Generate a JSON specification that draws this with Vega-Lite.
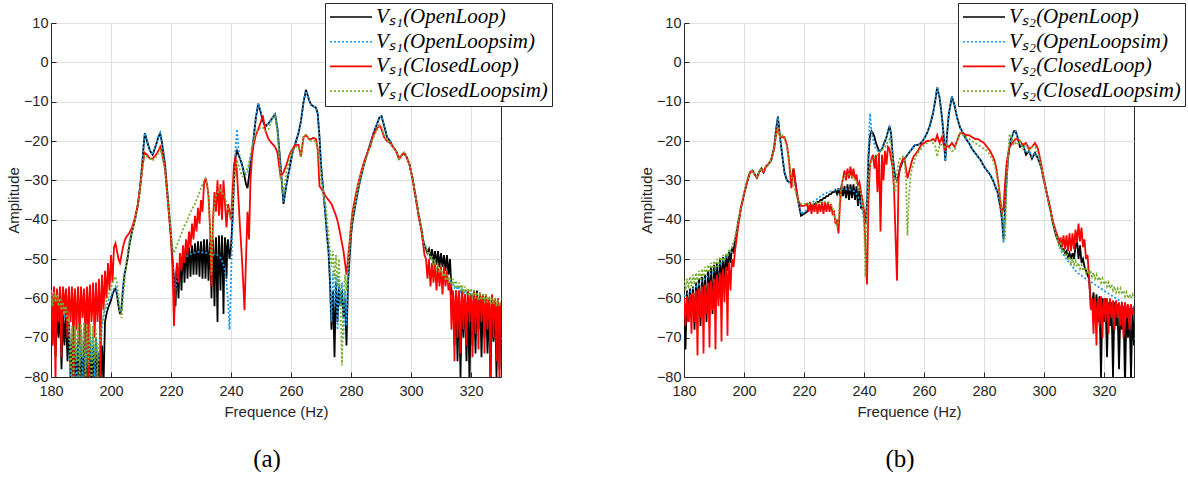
{
"$schema": "https://vega.github.io/schema/vega-lite/v6.json",
"background": "white",
"padding": {"left": 5, "top": 2, "right": 0, "bottom": 0},
"config": {
 "view": {"stroke": "#262626", "strokeWidth": 1},
 "axis": {"labelFont": "Liberation Sans", "labelFontSize": 14.5, "labelColor": "#262626", "titleFont": "Liberation Sans", "titleFontSize": 15, "titleFontWeight": "normal", "titleColor": "#262626", "gridColor": "#dfdfdf", "domainColor": "#262626", "tickColor": "#262626", "tickSize": -5, "labelPadding": 8, "labelFlush": false, "labelOverlap": false},
 "axisX": {"labelPadding": 12, "titlePadding": 7},
 "axisY": {"titlePadding": 2},
 "legend": {"symbolType": "stroke", "symbolSize": 1764, "symbolStrokeWidth": 1.6, "clipHeight": 20, "rowPadding": 3.7, "labelFont": "Liberation Serif", "labelFontStyle": "italic", "labelFontSize": 21, "labelColor": "#000000", "labelOffset": 3, "labelLimit": 0, "padding": 4, "fillColor": "#ffffff", "strokeColor": "#262626"}
},
"datasets": {
"A": [
{"f":180,"k":-62,"u":-59,"r":-58,"g":-58},
{"f":180.5,"k":-72,"u":-61,"r":-72,"g":-62},
{"f":181,"k":-61,"u":-59.5,"r":-57,"g":-58.5},
{"f":181.5,"k":-75,"u":-62,"r":-82,"g":-61},
{"f":182,"k":-63,"u":-60,"r":-57.5,"g":-59},
{"f":182.5,"k":-70,"u":-62.5,"r":-66,"g":-62},
{"f":183,"k":-62,"u":-61,"r":-57,"g":-60},
{"f":183.5,"k":-78,"u":-63.5,"r":-75,"g":-63},
{"f":184,"k":-64,"u":-62,"r":-57,"g":-61},
{"f":184.5,"k":-72,"u":-65,"r":-64,"g":-64},
{"f":185,"k":-63,"u":-63,"r":-57.5,"g":-62},
{"f":185.5,"k":-76,"u":-68,"r":-70,"g":-66},
{"f":186,"k":-66,"u":-67,"r":-57,"g":-65},
{"f":186.5,"k":-80,"u":-82,"r":-66,"g":-78},
{"f":187,"k":-70,"u":-69,"r":-57,"g":-67},
{"f":187.5,"k":-82,"u":-74,"r":-82,"g":-82},
{"f":188,"k":-72,"u":-68,"r":-57.5,"g":-67},
{"f":188.5,"k":-82,"u":-82,"r":-68,"g":-76},
{"f":189,"k":-71,"u":-68,"r":-57,"g":-66.5},
{"f":189.5,"k":-82,"u":-77,"r":-72,"g":-82},
{"f":190,"k":-72,"u":-68,"r":-57,"g":-66.5},
{"f":190.5,"k":-82,"u":-82,"r":-65,"g":-75},
{"f":191,"k":-71,"u":-67.5,"r":-57.5,"g":-66},
{"f":191.5,"k":-82,"u":-78,"r":-74,"g":-82},
{"f":192,"k":-72,"u":-68,"r":-57,"g":-66.5},
{"f":192.5,"k":-82,"u":-82,"r":-82,"g":-77},
{"f":193,"k":-71,"u":-68,"r":-56.5,"g":-66.5},
{"f":193.5,"k":-82,"u":-76,"r":-66,"g":-82},
{"f":194,"k":-72,"u":-69,"r":-56,"g":-67},
{"f":194.5,"k":-82,"u":-82,"r":-70,"g":-76},
{"f":195,"k":-70,"u":-70,"r":-56,"g":-68},
{"f":195.5,"k":-82,"u":-74,"r":-66,"g":-80},
{"f":196,"k":-74,"u":-76,"r":-55,"g":-72},
{"f":196.5,"k":-82,"u":-72,"r":-82,"g":-70},
{"f":197,"k":-72,"u":-67,"r":-54,"g":-66},
{"f":197.5,"k":-82,"u":-65,"r":-63,"g":-64},
{"f":198,"k":-66,"u":-63,"r":-53,"g":-62},
{"f":198.5,"k":-64,"u":-62,"r":-60,"g":-60.5},
{"f":199,"k":-62.5,"u":-61,"r":-51,"g":-59.5},
{"f":199.5,"k":-61.5,"u":-60,"r":-58,"g":-58.5},
{"f":200,"k":-60.5,"u":-59.5,"r":-49,"g":-57.5},
{"f":200.5,"k":-59,"u":-58.5,"r":-56,"g":-56},
{"f":201,"k":-58,"u":-57.5,"r":-47,"g":-55},
{"f":201.5,"k":-57.5,"u":-57,"r":-46,"g":-54.5},
{"f":202,"k":-59,"u":-58.5,"r":-48,"g":-56},
{"f":202.5,"k":-62,"u":-61,"r":-50,"g":-59},
{"f":203,"k":-64,"u":-63.5,"r":-51,"g":-63},
{"f":203.5,"k":-62.5,"u":-62,"r":-49,"g":-65},
{"f":204,"k":-57.5,"u":-57,"r":-47,"g":-60},
{"f":204.5,"k":-54,"u":-53.5,"r":-45.5,"g":-56},
{"f":205,"k":-52,"u":-51.5,"r":-44.5,"g":-52},
{"f":205.5,"k":-50,"u":-49.5,"r":-44,"g":-49},
{"f":206,"k":-47,"u":-46.5,"r":-43.5,"g":-46},
{"f":207,"k":-43,"u":-43,"r":-42,"g":-43},
{"f":208,"k":-40,"u":-40,"r":-39.5,"g":-40},
{"f":209,"k":-36,"u":-36,"r":-36,"g":-36.5},
{"f":209.5,"k":-33,"u":-33,"r":-33,"g":-33.5},
{"f":210,"k":-29.5,"u":-29.5,"r":-30,"g":-30.5},
{"f":210.5,"k":-25,"u":-25,"r":-26.5,"g":-27},
{"f":211,"k":-20,"u":-20,"r":-24,"g":-24},
{"f":211.3,"k":-18,"u":-18,"r":-23,"g":-23.5},
{"f":212,"k":-20,"u":-20,"r":-23.5,"g":-24},
{"f":213,"k":-22.5,"u":-22.5,"r":-24.5,"g":-24.5},
{"f":213.9,"k":-23.5,"u":-23.5,"r":-24.5,"g":-25},
{"f":215,"k":-21,"u":-21,"r":-23.5,"g":-24},
{"f":215.8,"k":-19,"u":-19,"r":-22.5,"g":-23},
{"f":216.4,"k":-18,"u":-18,"r":-21.5,"g":-22},
{"f":217,"k":-20.5,"u":-20.5,"r":-23,"g":-23.5},
{"f":218,"k":-26,"u":-26,"r":-27,"g":-27.5},
{"f":219,"k":-35,"u":-35,"r":-36,"g":-36},
{"f":220,"k":-44,"u":-44,"r":-45,"g":-43},
{"f":220.5,"k":-50,"u":-50,"r":-52,"g":-47},
{"f":221,"k":-55,"u":-56,"r":-67,"g":-48.5},
{"f":221.5,"k":-62,"u":-58,"r":-55,"g":-47.5},
{"f":222,"k":-52,"u":-55,"r":-51,"g":-46.5},
{"f":222.5,"k":-60,"u":-53,"r":-56,"g":-45.5},
{"f":223,"k":-50,"u":-52,"r":-48.5,"g":-44.5},
{"f":223.5,"k":-58,"u":-51,"r":-53,"g":-43.5},
{"f":224,"k":-48.5,"u":-50.5,"r":-46.5,"g":-42.5},
{"f":224.5,"k":-56,"u":-50,"r":-51,"g":-41.5},
{"f":225,"k":-47.5,"u":-49.5,"r":-45,"g":-41},
{"f":225.5,"k":-55,"u":-49.2,"r":-49,"g":-40},
{"f":226,"k":-47,"u":-49,"r":-43,"g":-39},
{"f":226.5,"k":-54.5,"u":-48.8,"r":-47,"g":-38},
{"f":227,"k":-46.5,"u":-48.6,"r":-41,"g":-37.5},
{"f":227.5,"k":-54,"u":-48.5,"r":-45,"g":-36.5},
{"f":228,"k":-46,"u":-48.4,"r":-39,"g":-36},
{"f":228.5,"k":-54,"u":-48.3,"r":-43,"g":-35},
{"f":229,"k":-45.5,"u":-48.2,"r":-37,"g":-34},
{"f":229.5,"k":-54.5,"u":-48.2,"r":-41,"g":-33},
{"f":230,"k":-45.5,"u":-48.2,"r":-35,"g":-32},
{"f":230.5,"k":-55,"u":-48.3,"r":-38,"g":-31},
{"f":231,"k":-45,"u":-48.3,"r":-31,"g":-30},
{"f":231.5,"k":-55,"u":-48.4,"r":-29.5,"g":-29.5},
{"f":232,"k":-45,"u":-48.5,"r":-31,"g":-31},
{"f":232.5,"k":-55.5,"u":-48.6,"r":-34,"g":-34},
{"f":233,"k":-45.5,"u":-48.8,"r":-42,"g":-42},
{"f":233.5,"k":-60,"u":-49,"r":-57,"g":-54},
{"f":234,"k":-45,"u":-49,"r":-40,"g":-42},
{"f":234.5,"k":-62,"u":-48.8,"r":-33,"g":-36},
{"f":235,"k":-44.5,"u":-48.8,"r":-38,"g":-34},
{"f":235.5,"k":-66,"u":-49,"r":-30,"g":-33},
{"f":236,"k":-44,"u":-49.3,"r":-39,"g":-33},
{"f":236.5,"k":-58,"u":-49.7,"r":-31,"g":-32.5},
{"f":237,"k":-44,"u":-50.5,"r":-40,"g":-33},
{"f":237.5,"k":-64,"u":-51.5,"r":-30,"g":-33.5},
{"f":238,"k":-44.5,"u":-53,"r":-36,"g":-34.5},
{"f":238.5,"k":-55,"u":-56,"r":-42,"g":-36},
{"f":239,"k":-45,"u":-61,"r":-36,"g":-37.5},
{"f":239.5,"k":-50,"u":-68,"r":-38,"g":-39},
{"f":240,"k":-47,"u":-55,"r":-40,"g":-39.5},
{"f":240.5,"k":-40,"u":-42,"r":-33,"g":-36},
{"f":241,"k":-30,"u":-30,"r":-26,"g":-31},
{"f":241.5,"k":-24,"u":-22,"r":-24,"g":-27},
{"f":242,"k":-22.5,"u":-17,"r":-28,"g":-25},
{"f":242.5,"k":-23.5,"u":-22,"r":-35,"g":-26},
{"f":243,"k":-24.5,"u":-24.5,"r":-42,"g":-27.5},
{"f":243.5,"k":-25.5,"u":-26,"r":-48,"g":-28.5},
{"f":244,"k":-27,"u":-27,"r":-55,"g":-29},
{"f":244.5,"k":-29,"u":-28,"r":-63,"g":-28.5},
{"f":245,"k":-31,"u":-28.5,"r":-50,"g":-27.5},
{"f":245.5,"k":-32,"u":-28,"r":-38,"g":-27},
{"f":246,"k":-29,"u":-26.5,"r":-45,"g":-25.5},
{"f":246.5,"k":-26,"u":-24.5,"r":-30,"g":-23.5},
{"f":247,"k":-23,"u":-22.5,"r":-24,"g":-21.5},
{"f":247.5,"k":-19.5,"u":-19.5,"r":-21,"g":-20},
{"f":248.3,"k":-14,"u":-14,"r":-18.5,"g":-18},
{"f":249.1,"k":-10.5,"u":-10.5,"r":-17,"g":-17},
{"f":250,"k":-13,"u":-13,"r":-15,"g":-16.5},
{"f":250.6,"k":-15,"u":-15,"r":-13.5,"g":-16.5},
{"f":251.5,"k":-16.3,"u":-16.3,"r":-17.5,"g":-17.5},
{"f":252.5,"k":-15.5,"u":-15.5,"r":-19.5,"g":-17},
{"f":253.5,"k":-14.5,"u":-14.5,"r":-20.5,"g":-15},
{"f":254.7,"k":-13.2,"u":-13.2,"r":-21.5,"g":-13.5},
{"f":255.5,"k":-17,"u":-17,"r":-23,"g":-18},
{"f":256.5,"k":-26,"u":-26,"r":-29,"g":-28},
{"f":257.5,"k":-36,"u":-35.5,"r":-28,"g":-33.5},
{"f":258.5,"k":-31,"u":-31,"r":-26,"g":-27.5},
{"f":259.5,"k":-27,"u":-27,"r":-23.5,"g":-24.5},
{"f":260.5,"k":-23,"u":-23,"r":-22,"g":-22.5},
{"f":261.5,"k":-20.5,"u":-20.5,"r":-21,"g":-21.5},
{"f":262.5,"k":-18,"u":-18,"r":-21,"g":-21.5},
{"f":263.3,"k":-15,"u":-15,"r":-24,"g":-24},
{"f":264.2,"k":-10,"u":-10,"r":-19,"g":-18.5},
{"f":265,"k":-7,"u":-7.3,"r":-18.5,"g":-18.5},
{"f":266,"k":-9.5,"u":-9.5,"r":-19.5,"g":-19.5},
{"f":266.7,"k":-10.8,"u":-10.8,"r":-19.5,"g":-20},
{"f":267.5,"k":-11.2,"u":-11.2,"r":-19.2,"g":-20},
{"f":268.3,"k":-11.5,"u":-11.5,"r":-19.5,"g":-20},
{"f":268.9,"k":-13,"u":-13,"r":-22,"g":-22.5},
{"f":269.5,"k":-19,"u":-19,"r":-31.5,"g":-26},
{"f":270,"k":-26,"u":-26,"r":-32,"g":-30},
{"f":270.8,"k":-33,"u":-33,"r":-33,"g":-33.5},
{"f":271.5,"k":-39,"u":-39,"r":-34,"g":-36},
{"f":272,"k":-44,"u":-44,"r":-34.5,"g":-40},
{"f":272.5,"k":-48,"u":-48,"r":-35,"g":-44},
{"f":273,"k":-56,"u":-54,"r":-35.5,"g":-48},
{"f":273.5,"k":-68,"u":-66,"r":-36,"g":-52},
{"f":274,"k":-58,"u":-53,"r":-37,"g":-48},
{"f":274.5,"k":-75,"u":-62,"r":-38,"g":-55},
{"f":275,"k":-56,"u":-54,"r":-39,"g":-49},
{"f":275.5,"k":-66,"u":-68,"r":-40.3,"g":-57},
{"f":276,"k":-57,"u":-55,"r":-42,"g":-50},
{"f":276.5,"k":-62,"u":-62,"r":-44,"g":-62},
{"f":277,"k":-58,"u":-56,"r":-46,"g":-77},
{"f":277.5,"k":-65,"u":-70,"r":-48,"g":-60},
{"f":278,"k":-60,"u":-58,"r":-51,"g":-54},
{"f":278.5,"k":-72,"u":-67,"r":-54,"g":-58},
{"f":279,"k":-56,"u":-55,"r":-50,"g":-52},
{"f":279.5,"k":-50,"u":-49,"r":-46,"g":-47},
{"f":280,"k":-44,"u":-43.5,"r":-41.5,"g":-42},
{"f":280.5,"k":-40.5,"u":-40,"r":-38,"g":-39},
{"f":281.5,"k":-36,"u":-36,"r":-34,"g":-35},
{"f":282.5,"k":-32,"u":-32,"r":-30.5,"g":-31},
{"f":283.5,"k":-28.5,"u":-28.5,"r":-27.5,"g":-28},
{"f":284.5,"k":-25.5,"u":-25.5,"r":-25,"g":-25.5},
{"f":285.5,"k":-23,"u":-23,"r":-23,"g":-23.5},
{"f":286.5,"k":-20.5,"u":-20.5,"r":-21,"g":-21},
{"f":287.5,"k":-18,"u":-18,"r":-18.5,"g":-19},
{"f":288.5,"k":-16,"u":-16,"r":-17,"g":-17.5},
{"f":289.5,"k":-14,"u":-14,"r":-16,"g":-16},
{"f":290.2,"k":-13.7,"u":-13.7,"r":-17,"g":-16.5},
{"f":291,"k":-16,"u":-16,"r":-19,"g":-18.5},
{"f":292,"k":-19,"u":-19,"r":-20,"g":-20},
{"f":293,"k":-20,"u":-20,"r":-20.5,"g":-20.5},
{"f":294,"k":-21.5,"u":-21.5,"r":-21.5,"g":-21.5},
{"f":295,"k":-22.5,"u":-22.5,"r":-22.5,"g":-22.5},
{"f":296,"k":-24.5,"u":-24.5,"r":-24.5,"g":-24.5},
{"f":297,"k":-23.5,"u":-23.5,"r":-23.5,"g":-23.5},
{"f":297.7,"k":-23,"u":-23,"r":-23,"g":-23},
{"f":298.5,"k":-24,"u":-24,"r":-24,"g":-24},
{"f":299.5,"k":-26,"u":-26,"r":-26,"g":-26},
{"f":300.5,"k":-29.5,"u":-29.5,"r":-29.5,"g":-29.5},
{"f":301.5,"k":-34,"u":-34,"r":-34,"g":-34},
{"f":302.5,"k":-38.5,"u":-38.5,"r":-39,"g":-38.5},
{"f":303.5,"k":-42.5,"u":-42.5,"r":-43,"g":-42.5},
{"f":304,"k":-45,"u":-45,"r":-46,"g":-45},
{"f":304.5,"k":-46.5,"u":-46,"r":-49,"g":-46.5},
{"f":305,"k":-47.5,"u":-47,"r":-50,"g":-47},
{"f":305.5,"k":-48.5,"u":-48,"r":-55,"g":-48.5},
{"f":306,"k":-47.5,"u":-48.5,"r":-50,"g":-48},
{"f":306.5,"k":-50,"u":-49.5,"r":-57,"g":-50},
{"f":307,"k":-47.5,"u":-50,"r":-51,"g":-49.5},
{"f":307.5,"k":-51,"u":-51,"r":-56,"g":-51.5},
{"f":308,"k":-48,"u":-51.5,"r":-51,"g":-50.5},
{"f":308.5,"k":-51.5,"u":-52.5,"r":-58,"g":-52.5},
{"f":309,"k":-48,"u":-52.5,"r":-51.5,"g":-51.5},
{"f":309.5,"k":-52,"u":-53.5,"r":-57,"g":-53.5},
{"f":310,"k":-48.5,"u":-53.5,"r":-52,"g":-52.5},
{"f":310.5,"k":-52,"u":-54.5,"r":-59,"g":-54.5},
{"f":311,"k":-49,"u":-54.3,"r":-52,"g":-53.5},
{"f":311.5,"k":-53,"u":-55.5,"r":-57,"g":-55.5},
{"f":312,"k":-49,"u":-55,"r":-53,"g":-54},
{"f":312.5,"k":-54,"u":-56,"r":-58,"g":-56},
{"f":313,"k":-50,"u":-55.7,"r":-56,"g":-54.5},
{"f":313.5,"k":-58,"u":-56.8,"r":-68,"g":-56.5},
{"f":314,"k":-60,"u":-56.3,"r":-58,"g":-55},
{"f":314.5,"k":-72,"u":-57.3,"r":-76,"g":-57},
{"f":315,"k":-58,"u":-56.8,"r":-58,"g":-55.5},
{"f":315.5,"k":-76,"u":-57.8,"r":-70,"g":-57.5},
{"f":316,"k":-59,"u":-57.3,"r":-58,"g":-56},
{"f":316.5,"k":-80,"u":-58.3,"r":-74,"g":-58},
{"f":317,"k":-60,"u":-57.7,"r":-58,"g":-56.5},
{"f":317.5,"k":-70,"u":-58.7,"r":-68,"g":-58.5},
{"f":318,"k":-59,"u":-58,"r":-59,"g":-57},
{"f":318.5,"k":-76,"u":-59,"r":-72,"g":-59},
{"f":319,"k":-59,"u":-58.4,"r":-58,"g":-57.5},
{"f":319.5,"k":-82,"u":-59.4,"r":-66,"g":-59.5},
{"f":320,"k":-59,"u":-58.7,"r":-59,"g":-57.5},
{"f":320.5,"k":-72,"u":-59.7,"r":-75,"g":-60},
{"f":321,"k":-58,"u":-59,"r":-58,"g":-58},
{"f":321.5,"k":-74,"u":-60,"r":-69,"g":-60},
{"f":322,"k":-58,"u":-59.3,"r":-59,"g":-58.5},
{"f":322.5,"k":-68,"u":-60.3,"r":-73,"g":-60.5},
{"f":323,"k":-59,"u":-59.6,"r":-58.5,"g":-58.5},
{"f":323.5,"k":-75,"u":-60.6,"r":-66,"g":-60.5},
{"f":324,"k":-59,"u":-59.9,"r":-59,"g":-59},
{"f":324.5,"k":-70,"u":-60.9,"r":-74,"g":-61},
{"f":325,"k":-60,"u":-60.2,"r":-59,"g":-59},
{"f":325.5,"k":-74,"u":-61.2,"r":-68,"g":-61},
{"f":326,"k":-60,"u":-60.4,"r":-60,"g":-59.5},
{"f":326.5,"k":-82,"u":-61.4,"r":-82,"g":-61.5},
{"f":327,"k":-60,"u":-60.7,"r":-59,"g":-60},
{"f":327.5,"k":-71,"u":-61.7,"r":-70,"g":-61.5},
{"f":328,"k":-61,"u":-61,"r":-60,"g":-60},
{"f":328.5,"k":-80,"u":-62,"r":-76,"g":-62},
{"f":329,"k":-61,"u":-61.2,"r":-60,"g":-60.5},
{"f":329.5,"k":-78,"u":-62.2,"r":-82,"g":-62},
{"f":330,"k":-62,"u":-61.5,"r":-61,"g":-61},
{"f":180.25,"r":-61},{"f":180.75,"r":-60},{"f":181.25,"r":-64},{"f":181.75,"r":-60},
{"f":182.25,"r":-62},{"f":182.75,"r":-61},{"f":183.25,"r":-66},{"f":183.75,"r":-60},
{"f":184.25,"r":-63},{"f":184.75,"r":-59},{"f":185.25,"r":-65},{"f":185.75,"r":-60},
{"f":186.25,"r":-62},{"f":186.75,"r":-61},{"f":187.25,"r":-64},{"f":187.75,"r":-60},
{"f":188.25,"r":-63},{"f":188.75,"r":-62},{"f":189.25,"r":-61},{"f":189.75,"r":-64},
{"f":190.25,"r":-60},{"f":190.75,"r":-62},{"f":191.25,"r":-64},{"f":191.75,"r":-61},
{"f":192.25,"r":-63},{"f":192.75,"r":-60},{"f":193.25,"r":-62},{"f":193.75,"r":-63},
{"f":194.25,"r":-60},{"f":194.75,"r":-64},{"f":195.25,"r":-61},{"f":195.75,"r":-62},
{"f":196.25,"r":-60},{"f":196.75,"r":-62},{"f":197.25,"r":-58},{"f":197.75,"r":-59},
{"f":313.25,"r":-60},{"f":313.75,"r":-62},{"f":314.25,"r":-65},{"f":314.75,"r":-61},
{"f":315.25,"r":-64},{"f":315.75,"r":-60},{"f":316.25,"r":-66},{"f":316.75,"r":-61},
{"f":317.25,"r":-63},{"f":317.75,"r":-60},{"f":318.25,"r":-65},{"f":318.75,"r":-61},
{"f":319.25,"r":-62},{"f":319.75,"r":-60},{"f":320.25,"r":-64},{"f":320.75,"r":-61},
{"f":321.25,"r":-63},{"f":321.75,"r":-60},{"f":322.25,"r":-65},{"f":322.75,"r":-61},
{"f":323.25,"r":-62},{"f":323.75,"r":-60},{"f":324.25,"r":-64},{"f":324.75,"r":-62},
{"f":325.25,"r":-63},{"f":325.75,"r":-61},{"f":326.25,"r":-66},{"f":326.75,"r":-62},
{"f":327.25,"r":-63},{"f":327.75,"r":-61},{"f":328.25,"r":-65},{"f":328.75,"r":-62},
{"f":329.25,"r":-64},{"f":329.75,"r":-62},
{"f":221.25,"k":-58},{"f":221.75,"k":-56},{"f":222.25,"k":-55},{"f":222.75,"k":-54},
{"f":223.25,"k":-53},{"f":223.75,"k":-52},{"f":224.25,"k":-51},{"f":224.75,"k":-51},
{"f":225.25,"k":-50},{"f":225.75,"k":-50},{"f":226.25,"k":-49.5},{"f":226.75,"k":-49.5},
{"f":227.25,"k":-49},{"f":227.75,"k":-49.5},{"f":228.25,"k":-49},{"f":228.75,"k":-49},
{"f":229.25,"k":-49},{"f":229.75,"k":-49},{"f":230.25,"k":-49},{"f":230.75,"k":-49.5},
{"f":231.25,"k":-49},{"f":231.75,"k":-50},{"f":232.25,"k":-49},{"f":232.75,"k":-50},
{"f":233.25,"k":-52},{"f":233.75,"k":-50},{"f":234.25,"k":-54},{"f":234.75,"k":-49},
{"f":235.25,"k":-55},{"f":235.75,"k":-50},{"f":236.25,"k":-52},{"f":236.75,"k":-49},
{"f":237.25,"k":-53},{"f":237.75,"k":-50},{"f":238.25,"k":-48},{"f":238.75,"k":-47}
],
"B": [
{"f":180,"k":-60,"u":-59.5,"r":-60,"g":-55.5},
{"f":180.5,"k":-73,"u":-59,"r":-67,"g":-58},
{"f":181,"k":-58,"u":-59,"r":-59.5,"g":-55},
{"f":181.5,"k":-66,"u":-58.5,"r":-66,"g":-57.5},
{"f":182,"k":-57.5,"u":-58.5,"r":-59,"g":-54.5},
{"f":182.5,"k":-64,"u":-58,"r":-69,"g":-57},
{"f":183,"k":-57,"u":-57.5,"r":-58.5,"g":-54},
{"f":183.5,"k":-68,"u":-57.5,"r":-66,"g":-56.5},
{"f":184,"k":-56,"u":-57,"r":-58,"g":-53.5},
{"f":184.5,"k":-63,"u":-56.5,"r":-74.5,"g":-56},
{"f":185,"k":-55,"u":-56.5,"r":-57.5,"g":-53},
{"f":185.5,"k":-67,"u":-56,"r":-65,"g":-55.5},
{"f":186,"k":-54.5,"u":-55.5,"r":-57,"g":-52.5},
{"f":186.5,"k":-62,"u":-55.5,"r":-74,"g":-55},
{"f":187,"k":-54,"u":-55,"r":-56.5,"g":-52},
{"f":187.5,"k":-66,"u":-54.5,"r":-64,"g":-54},
{"f":188,"k":-53,"u":-54.5,"r":-56,"g":-51.5},
{"f":188.5,"k":-60,"u":-54,"r":-72.5,"g":-53.5},
{"f":189,"k":-52,"u":-53.5,"r":-55.5,"g":-51},
{"f":189.5,"k":-64,"u":-53.5,"r":-63,"g":-53},
{"f":190,"k":-51.5,"u":-53,"r":-55,"g":-50.5},
{"f":190.5,"k":-58,"u":-52.5,"r":-73,"g":-52.5},
{"f":191,"k":-51,"u":-52,"r":-54,"g":-50},
{"f":191.5,"k":-60,"u":-51.5,"r":-62,"g":-52},
{"f":192,"k":-50,"u":-51.5,"r":-53.5,"g":-49.5},
{"f":192.5,"k":-57,"u":-51,"r":-71,"g":-51},
{"f":193,"k":-49.5,"u":-50.5,"r":-52.5,"g":-49},
{"f":193.5,"k":-55,"u":-50,"r":-61,"g":-50.5},
{"f":194,"k":-49,"u":-49.5,"r":-52,"g":-48.5},
{"f":194.5,"k":-53,"u":-49,"r":-69.5,"g":-49.5},
{"f":195,"k":-48,"u":-48.5,"r":-51,"g":-48},
{"f":195.5,"k":-51,"u":-47.5,"r":-58,"g":-48.5},
{"f":196,"k":-47,"u":-47,"r":-50,"g":-47},
{"f":196.5,"k":-48,"u":-46,"r":-52,"g":-46},
{"f":197,"k":-45.5,"u":-45,"r":-48,"g":-44.5},
{"f":197.5,"k":-43.5,"u":-43,"r":-45,"g":-42.5},
{"f":198,"k":-41,"u":-41,"r":-42,"g":-40.5},
{"f":199,"k":-37,"u":-37,"r":-37,"g":-36.5},
{"f":200,"k":-33.5,"u":-33.5,"r":-33.5,"g":-33},
{"f":201,"k":-30.5,"u":-30.5,"r":-30.5,"g":-30},
{"f":202,"k":-28,"u":-28,"r":-28,"g":-28},
{"f":202.8,"k":-27.5,"u":-27.5,"r":-27.5,"g":-27.5},
{"f":203.6,"k":-28.5,"u":-28.5,"r":-28.5,"g":-28.5},
{"f":204.3,"k":-29.3,"u":-29.3,"r":-29.3,"g":-29},
{"f":205,"k":-28,"u":-28,"r":-28,"g":-28},
{"f":205.8,"k":-27,"u":-27,"r":-27,"g":-27},
{"f":206.5,"k":-28,"u":-28,"r":-28,"g":-27.5},
{"f":207.3,"k":-26.5,"u":-26.5,"r":-26.5,"g":-26.5},
{"f":208,"k":-26,"u":-26,"r":-26,"g":-26},
{"f":209,"k":-25,"u":-25,"r":-25,"g":-25},
{"f":210,"k":-22,"u":-22,"r":-22,"g":-21.5},
{"f":210.7,"k":-17,"u":-17,"r":-18.5,"g":-18.5},
{"f":211.3,"k":-13.8,"u":-14,"r":-16.5,"g":-16.5},
{"f":212,"k":-19,"u":-19,"r":-19,"g":-19},
{"f":212.8,"k":-24,"u":-24,"r":-19,"g":-18.5},
{"f":213.5,"k":-28,"u":-28,"r":-19,"g":-19.5},
{"f":214.3,"k":-30,"u":-30,"r":-21,"g":-21.5},
{"f":215,"k":-30.5,"u":-30.5,"r":-25,"g":-25},
{"f":215.8,"k":-30.5,"u":-30.5,"r":-32,"g":-29},
{"f":216.5,"k":-27,"u":-28,"r":-27,"g":-31},
{"f":217.2,"k":-31,"u":-31,"r":-31,"g":-33},
{"f":218,"k":-35,"u":-35,"r":-35,"g":-35},
{"f":219,"k":-39,"u":-38.5,"r":-36.5,"g":-36},
{"f":220,"k":-38.5,"u":-38,"r":-36.5,"g":-36},
{"f":221,"k":-38,"u":-37.5,"r":-36,"g":-36},
{"f":221.5,"k":-37.5,"u":-37,"r":-38,"g":-36},
{"f":222,"k":-37,"u":-36.5,"r":-35.5,"g":-36},
{"f":222.5,"k":-36.5,"u":-36,"r":-38.5,"g":-36},
{"f":223,"k":-36.5,"u":-35.5,"r":-36,"g":-36},
{"f":223.5,"k":-36,"u":-35.2,"r":-38,"g":-35.8},
{"f":224,"k":-36,"u":-35,"r":-35.5,"g":-35.8},
{"f":224.5,"k":-35.5,"u":-34.7,"r":-38.5,"g":-35.7},
{"f":225,"k":-35.5,"u":-34.4,"r":-36,"g":-35.6},
{"f":225.5,"k":-35,"u":-34.1,"r":-38,"g":-35.5},
{"f":226,"k":-35,"u":-33.8,"r":-35.5,"g":-35.5},
{"f":226.5,"k":-34.5,"u":-33.6,"r":-38.5,"g":-35.5},
{"f":227,"k":-34.5,"u":-33.4,"r":-35.5,"g":-35.5},
{"f":227.5,"k":-34,"u":-33.2,"r":-38,"g":-35.5},
{"f":228,"k":-34,"u":-33,"r":-35.5,"g":-35.6},
{"f":228.5,"k":-33.5,"u":-32.9,"r":-38,"g":-35.8},
{"f":229,"k":-33.5,"u":-32.8,"r":-36,"g":-36.2},
{"f":229.5,"k":-33,"u":-32.7,"r":-38.5,"g":-37},
{"f":230,"k":-33,"u":-32.6,"r":-38,"g":-38.5},
{"f":230.5,"k":-32.5,"u":-32.5,"r":-41,"g":-40},
{"f":231,"k":-33.5,"u":-32.4,"r":-40,"g":-42},
{"f":231.5,"k":-32,"u":-32.3,"r":-43.5,"g":-40},
{"f":232,"k":-34,"u":-32.3,"r":-36,"g":-34},
{"f":232.5,"k":-31.5,"u":-32.2,"r":-31.5,"g":-31},
{"f":233,"k":-34,"u":-32.2,"r":-29.5,"g":-29.5},
{"f":233.5,"k":-31.5,"u":-32.2,"r":-27.5,"g":-29},
{"f":234,"k":-34.5,"u":-32.2,"r":-30,"g":-28.5},
{"f":234.5,"k":-31,"u":-32.2,"r":-27,"g":-28.5},
{"f":235,"k":-35,"u":-32.3,"r":-29.5,"g":-28.5},
{"f":235.5,"k":-31,"u":-32.4,"r":-26.5,"g":-28.7},
{"f":236,"k":-34.5,"u":-32.5,"r":-29.5,"g":-29},
{"f":236.5,"k":-31,"u":-32.7,"r":-27,"g":-29.3},
{"f":237,"k":-35,"u":-33,"r":-30,"g":-29.8},
{"f":237.5,"k":-31.5,"u":-33.4,"r":-28.5,"g":-30.5},
{"f":238,"k":-36.5,"u":-34,"r":-31.5,"g":-31.3},
{"f":238.5,"k":-32,"u":-35,"r":-30.5,"g":-32.3},
{"f":239,"k":-37,"u":-36.5,"r":-33,"g":-33.5},
{"f":239.5,"k":-37,"u":-38,"r":-35,"g":-35.5},
{"f":240,"k":-38,"u":-40,"r":-38,"g":-40},
{"f":240.5,"k":-41,"u":-41,"r":-47,"g":-54.5},
{"f":241,"k":-36,"u":-33,"r":-56.5,"g":-38},
{"f":241.5,"k":-24,"u":-22,"r":-35,"g":-30},
{"f":242,"k":-18.5,"u":-13,"r":-26,"g":-26},
{"f":242.5,"k":-17.5,"u":-17.5,"r":-24.5,"g":-25},
{"f":243,"k":-18,"u":-19.5,"r":-23.5,"g":-24.5},
{"f":243.5,"k":-19,"u":-21,"r":-27,"g":-24},
{"f":244,"k":-20.5,"u":-22,"r":-23.5,"g":-24},
{"f":244.5,"k":-21.5,"u":-22.5,"r":-33,"g":-23.5},
{"f":245,"k":-22.5,"u":-22.5,"r":-23,"g":-23},
{"f":245.5,"k":-22.5,"u":-22.5,"r":-43,"g":-22.7},
{"f":246,"k":-22,"u":-22,"r":-23.5,"g":-22.3},
{"f":246.5,"k":-21,"u":-21,"r":-30,"g":-22},
{"f":247,"k":-20,"u":-20,"r":-22.5,"g":-21.5},
{"f":247.5,"k":-19,"u":-19,"r":-26,"g":-21},
{"f":248,"k":-17.5,"u":-17.5,"r":-21.5,"g":-20},
{"f":248.5,"k":-16.2,"u":-16.5,"r":-22,"g":-19.5},
{"f":249,"k":-18,"u":-18.5,"r":-24.5,"g":-21},
{"f":249.5,"k":-23,"u":-23,"r":-26.5,"g":-25},
{"f":250,"k":-27,"u":-27.5,"r":-32,"g":-32},
{"f":250.5,"k":-29.5,"u":-30,"r":-44,"g":-33},
{"f":251,"k":-30,"u":-30,"r":-55.5,"g":-28},
{"f":251.5,"k":-28.5,"u":-28.5,"r":-30,"g":-25.5},
{"f":252,"k":-27,"u":-27,"r":-26.5,"g":-24.5},
{"f":252.5,"k":-26,"u":-26,"r":-25.5,"g":-24},
{"f":253,"k":-25,"u":-25,"r":-24.5,"g":-24},
{"f":253.5,"k":-24.5,"u":-24.5,"r":-24.5,"g":-25},
{"f":254,"k":-24,"u":-24,"r":-27,"g":-30},
{"f":254.5,"k":-23.5,"u":-23.5,"r":-29.5,"g":-44},
{"f":255,"k":-23,"u":-23,"r":-28,"g":-34},
{"f":255.5,"k":-22.5,"u":-22.5,"r":-26.5,"g":-29},
{"f":256,"k":-22,"u":-22,"r":-25,"g":-27},
{"f":256.5,"k":-21.5,"u":-21.5,"r":-24,"g":-26},
{"f":257,"k":-21,"u":-21,"r":-23.5,"g":-24.5},
{"f":258,"k":-21,"u":-21,"r":-22.5,"g":-23},
{"f":259,"k":-20.5,"u":-20.5,"r":-21,"g":-22},
{"f":260,"k":-19.5,"u":-19.5,"r":-20.5,"g":-21},
{"f":261,"k":-18,"u":-18,"r":-20,"g":-20.5},
{"f":262,"k":-16,"u":-16,"r":-20,"g":-20},
{"f":263,"k":-13,"u":-13,"r":-19.5,"g":-20.5},
{"f":263.8,"k":-9.5,"u":-9.5,"r":-20,"g":-21.5},
{"f":264.4,"k":-6.4,"u":-6.4,"r":-18.5,"g":-24},
{"f":265.2,"k":-9,"u":-9,"r":-20.5,"g":-21},
{"f":266,"k":-14,"u":-14,"r":-19,"g":-21},
{"f":266.6,"k":-19,"u":-19,"r":-21,"g":-21.5},
{"f":267.1,"k":-25,"u":-25,"r":-22.5,"g":-21.5},
{"f":267.6,"k":-19,"u":-19,"r":-21,"g":-21},
{"f":268.3,"k":-13,"u":-13,"r":-21.5,"g":-21.5},
{"f":269.3,"k":-8.7,"u":-8.7,"r":-20.5,"g":-22.5},
{"f":270.2,"k":-11,"u":-11,"r":-21.5,"g":-22.5},
{"f":271,"k":-14,"u":-14,"r":-20,"g":-20},
{"f":272,"k":-16.5,"u":-16.5,"r":-18,"g":-18},
{"f":273,"k":-18,"u":-18,"r":-18,"g":-18.5},
{"f":274,"k":-19.5,"u":-19.5,"r":-18.5,"g":-19},
{"f":275,"k":-20.5,"u":-20.5,"r":-18.5,"g":-19.5},
{"f":276,"k":-22,"u":-22,"r":-19,"g":-20},
{"f":277,"k":-23,"u":-23,"r":-19.5,"g":-20.5},
{"f":278,"k":-24,"u":-24,"r":-19.5,"g":-21},
{"f":279,"k":-25,"u":-25,"r":-20,"g":-21.5},
{"f":280,"k":-26.5,"u":-26.5,"r":-20.5,"g":-22},
{"f":281,"k":-27.5,"u":-27.5,"r":-21.5,"g":-22.5},
{"f":282,"k":-28.5,"u":-28.5,"r":-22.5,"g":-23.5},
{"f":283,"k":-30,"u":-30,"r":-24,"g":-25},
{"f":283.5,"k":-31,"u":-31,"r":-25,"g":-26},
{"f":284,"k":-32,"u":-32,"r":-26.5,"g":-27.5},
{"f":284.5,"k":-33,"u":-33,"r":-29,"g":-29.5},
{"f":285,"k":-35,"u":-35,"r":-32,"g":-32},
{"f":285.5,"k":-37,"u":-37,"r":-35.5,"g":-35},
{"f":286,"k":-40,"u":-40,"r":-38.5,"g":-38},
{"f":286.5,"k":-45,"u":-46,"r":-37,"g":-40},
{"f":287,"k":-38,"u":-39,"r":-31,"g":-45},
{"f":287.5,"k":-30,"u":-30,"r":-26,"g":-32},
{"f":288,"k":-24.5,"u":-24.5,"r":-23.5,"g":-24},
{"f":288.5,"k":-21.5,"u":-21.5,"r":-21.5,"g":-18.3},
{"f":289,"k":-19.5,"u":-19.5,"r":-21,"g":-18.5},
{"f":289.5,"k":-18.5,"u":-18.5,"r":-20.5,"g":-20},
{"f":290,"k":-17.5,"u":-17.5,"r":-20,"g":-21},
{"f":290.5,"k":-17.5,"u":-17.5,"r":-19.5,"g":-20.5},
{"f":291,"k":-18.5,"u":-18.5,"r":-19.5,"g":-21},
{"f":292,"k":-21.5,"u":-21,"r":-20,"g":-20},
{"f":293,"k":-21,"u":-21,"r":-21,"g":-22},
{"f":294,"k":-23.5,"u":-23,"r":-20.5,"g":-21},
{"f":295,"k":-22.5,"u":-22.5,"r":-22,"g":-22.5},
{"f":296,"k":-24.5,"u":-24,"r":-21.5,"g":-21.5},
{"f":297,"k":-23,"u":-23,"r":-20.5,"g":-21.5},
{"f":298,"k":-24.5,"u":-24.5,"r":-22,"g":-23},
{"f":299,"k":-26.5,"u":-26.5,"r":-25.5,"g":-26},
{"f":300,"k":-30,"u":-30,"r":-30,"g":-30},
{"f":301,"k":-33.5,"u":-33.5,"r":-33.5,"g":-34},
{"f":302,"k":-37,"u":-37,"r":-37,"g":-37.5},
{"f":303,"k":-41,"u":-41,"r":-40.5,"g":-41},
{"f":304,"k":-44,"u":-44,"r":-43,"g":-44},
{"f":304.5,"k":-45,"u":-45,"r":-44,"g":-45},
{"f":305,"k":-46,"u":-46.5,"r":-46,"g":-46.5},
{"f":305.5,"k":-46.5,"u":-47.5,"r":-44.5,"g":-46},
{"f":306,"k":-47.5,"u":-48.5,"r":-47,"g":-48},
{"f":306.5,"k":-47.5,"u":-49,"r":-44,"g":-47.5},
{"f":307,"k":-48.5,"u":-49.5,"r":-47.5,"g":-49},
{"f":307.5,"k":-48,"u":-50,"r":-44,"g":-48.5},
{"f":308,"k":-49.5,"u":-50.5,"r":-48,"g":-50},
{"f":308.5,"k":-48.5,"u":-51,"r":-43.5,"g":-49.5},
{"f":309,"k":-50,"u":-51.5,"r":-48,"g":-51},
{"f":309.5,"k":-48.5,"u":-52,"r":-43.5,"g":-50},
{"f":310,"k":-50,"u":-52.5,"r":-47.5,"g":-51.5},
{"f":310.5,"k":-47,"u":-53,"r":-42.5,"g":-50.5},
{"f":311,"k":-45,"u":-53.3,"r":-46,"g":-52},
{"f":311.5,"k":-50,"u":-53.7,"r":-41,"g":-51},
{"f":312,"k":-46.5,"u":-54,"r":-45.5,"g":-52.5},
{"f":312.5,"k":-51,"u":-54.2,"r":-42,"g":-51.5},
{"f":313,"k":-50,"u":-54.5,"r":-47,"g":-53},
{"f":313.5,"k":-52,"u":-54.8,"r":-45,"g":-52},
{"f":314,"k":-53,"u":-55,"r":-50,"g":-53.5},
{"f":314.5,"k":-54,"u":-55.3,"r":-49,"g":-52.5},
{"f":315,"k":-55,"u":-55.5,"r":-54,"g":-54},
{"f":315.5,"k":-60,"u":-55.8,"r":-62,"g":-53},
{"f":316,"k":-62,"u":-56,"r":-60,"g":-54.5},
{"f":316.5,"k":-58.5,"u":-56.3,"r":-69,"g":-53.5},
{"f":317,"k":-64,"u":-56.5,"r":-60,"g":-55},
{"f":317.5,"k":-59,"u":-56.8,"r":-72,"g":-54},
{"f":318,"k":-66,"u":-57,"r":-60,"g":-55.5},
{"f":318.5,"k":-59.5,"u":-57.3,"r":-67,"g":-54.5},
{"f":319,"k":-80,"u":-57.5,"r":-59.5,"g":-56},
{"f":319.5,"k":-60,"u":-57.8,"r":-70,"g":-55},
{"f":320,"k":-66,"u":-58,"r":-60,"g":-56.5},
{"f":320.5,"k":-60,"u":-58.3,"r":-66,"g":-55.5},
{"f":321,"k":-75,"u":-58.5,"r":-60,"g":-57},
{"f":321.5,"k":-61,"u":-58.8,"r":-69,"g":-56},
{"f":322,"k":-67,"u":-59,"r":-60,"g":-57.5},
{"f":322.5,"k":-61,"u":-59.3,"r":-65,"g":-56.5},
{"f":323,"k":-80,"u":-59.5,"r":-60.5,"g":-58},
{"f":323.5,"k":-61,"u":-59.8,"r":-68,"g":-57},
{"f":324,"k":-67,"u":-60,"r":-60.5,"g":-58.5},
{"f":324.5,"k":-61.5,"u":-60.3,"r":-65,"g":-57.5},
{"f":325,"k":-78,"u":-60.5,"r":-61,"g":-58.5},
{"f":325.5,"k":-62,"u":-60.8,"r":-67,"g":-57.5},
{"f":326,"k":-68,"u":-61,"r":-61,"g":-59},
{"f":326.5,"k":-62,"u":-61.3,"r":-70,"g":-58},
{"f":327,"k":-82,"u":-61.5,"r":-61,"g":-59.5},
{"f":327.5,"k":-62.5,"u":-61.8,"r":-65,"g":-58.5},
{"f":328,"k":-70,"u":-62,"r":-61.5,"g":-60},
{"f":328.5,"k":-62.5,"u":-62.2,"r":-68,"g":-59},
{"f":329,"k":-80,"u":-62.4,"r":-61.5,"g":-60},
{"f":329.5,"k":-63,"u":-62.6,"r":-64,"g":-59},
{"f":330,"k":-72,"u":-62.8,"r":-62,"g":-60},
{"f":180.25,"r":-63},{"f":180.75,"r":-62},{"f":181.25,"r":-64},{"f":181.75,"r":-61},
{"f":182.25,"r":-63},{"f":182.75,"r":-61},{"f":183.25,"r":-62},{"f":183.75,"r":-60},
{"f":184.25,"r":-63},{"f":184.75,"r":-60},{"f":185.25,"r":-62},{"f":185.75,"r":-59},
{"f":186.25,"r":-61},{"f":186.75,"r":-60},{"f":187.25,"r":-62},{"f":187.75,"r":-59},
{"f":188.25,"r":-61},{"f":188.75,"r":-58},{"f":189.25,"r":-60},{"f":189.75,"r":-58},
{"f":190.25,"r":-59},{"f":190.75,"r":-57},{"f":191.25,"r":-59},{"f":191.75,"r":-56},
{"f":192.25,"r":-58},{"f":192.75,"r":-56},{"f":193.25,"r":-57},{"f":193.75,"r":-55},
{"f":194.25,"r":-56},{"f":194.75,"r":-54},{"f":195.25,"r":-55},{"f":195.75,"r":-53},
{"f":315.75,"r":-63},{"f":316.25,"r":-64},{"f":316.75,"r":-62},{"f":317.25,"r":-66},
{"f":317.75,"r":-62},{"f":318.25,"r":-64},{"f":318.75,"r":-61},{"f":319.25,"r":-65},
{"f":319.75,"r":-62},{"f":320.25,"r":-63},{"f":320.75,"r":-61},{"f":321.25,"r":-64},
{"f":321.75,"r":-62},{"f":322.25,"r":-63},{"f":322.75,"r":-62},{"f":323.25,"r":-65},
{"f":323.75,"r":-62},{"f":324.25,"r":-63},{"f":324.75,"r":-62},{"f":325.25,"r":-64},
{"f":325.75,"r":-62},{"f":326.25,"r":-65},{"f":326.75,"r":-63},{"f":327.25,"r":-64},
{"f":327.75,"r":-62},{"f":328.25,"r":-65},{"f":328.75,"r":-63},{"f":329.25,"r":-64},
{"f":329.75,"r":-63}
]
},
"bounds": "flush",
"spacing": 183,
"resolve": {"scale": {"color": "independent", "strokeDash": "independent", "x": "independent", "y": "independent"}, "legend": {"color": "independent", "strokeDash": "independent"}},
"hconcat": [
{
 "width": 450, "height": 354,
 "data": {"name": "A"},
 "title": {"text": "(a)", "orient": "bottom", "anchor": "middle", "font": "Liberation Serif", "fontSize": 25, "fontWeight": "normal", "color": "#000000", "offset": 27, "dx": -9},
 "encoding": {"x": {"field": "f", "type": "quantitative", "scale": {"domain": [180, 330], "nice": false, "zero": false}, "axis": {"title": "Frequence (Hz)", "values": [180, 200, 220, 240, 260, 280, 300, 320]}}},
 "layer": [
  {"mark": {"type": "line", "clip": true, "strokeWidth": 1.8, "invalid": "filter"}, "encoding": {
    "y": {"field": "k", "type": "quantitative", "scale": {"domain": [-80, 10], "nice": false, "zero": false}, "axis": {"title": "Amplitude", "values": [-80, -70, -60, -50, -40, -30, -20, -10, 0, 10]}},
    "color": {"datum": "Vₛ₁(OpenLoop)", "scale": {"domain": ["Vₛ₁(OpenLoop)", "Vₛ₁(OpenLoopsim)", "Vₛ₁(ClosedLoop)", "Vₛ₁(ClosedLoopsim)"], "range": ["#000000", "#1e9bf0", "#ff0000", "#77ac30"]}, "legend": {"title": null, "orient": "none", "legendX": 274, "legendY": -20}},
    "strokeDash": {"datum": "Vₛ₁(OpenLoop)", "scale": {"domain": ["Vₛ₁(OpenLoop)", "Vₛ₁(OpenLoopsim)", "Vₛ₁(ClosedLoop)", "Vₛ₁(ClosedLoopsim)"], "range": [[1, 0], [2, 2], [1, 0], [2, 2]]}, "legend": {"title": null, "orient": "none", "legendX": 274, "legendY": -20}}}},
  {"mark": {"type": "line", "clip": true, "strokeWidth": 1.8, "invalid": "filter"}, "encoding": {
    "y": {"field": "u", "type": "quantitative", "axis": {"title": "Amplitude", "values": [-80, -70, -60, -50, -40, -30, -20, -10, 0, 10]}},
    "color": {"datum": "Vₛ₁(OpenLoopsim)"},
    "strokeDash": {"datum": "Vₛ₁(OpenLoopsim)"}}},
  {"mark": {"type": "line", "clip": true, "strokeWidth": 1.8, "invalid": "filter"}, "encoding": {
    "y": {"field": "r", "type": "quantitative", "axis": {"title": "Amplitude", "values": [-80, -70, -60, -50, -40, -30, -20, -10, 0, 10]}},
    "color": {"datum": "Vₛ₁(ClosedLoop)"},
    "strokeDash": {"datum": "Vₛ₁(ClosedLoop)"}}},
  {"mark": {"type": "line", "clip": true, "strokeWidth": 1.8, "invalid": "filter"}, "encoding": {
    "y": {"field": "g", "type": "quantitative", "axis": {"title": "Amplitude", "values": [-80, -70, -60, -50, -40, -30, -20, -10, 0, 10]}},
    "color": {"datum": "Vₛ₁(ClosedLoopsim)"},
    "strokeDash": {"datum": "Vₛ₁(ClosedLoopsim)"}}}
 ]
},
{
 "width": 450, "height": 354,
 "data": {"name": "B"},
 "title": {"text": "(b)", "orient": "bottom", "anchor": "middle", "font": "Liberation Serif", "fontSize": 25, "fontWeight": "normal", "color": "#000000", "offset": 27, "dx": -9},
 "encoding": {"x": {"field": "f", "type": "quantitative", "scale": {"domain": [180, 330], "nice": false, "zero": false}, "axis": {"title": "Frequence (Hz)", "values": [180, 200, 220, 240, 260, 280, 300, 320]}}},
 "layer": [
  {"mark": {"type": "line", "clip": true, "strokeWidth": 1.8, "invalid": "filter"}, "encoding": {
    "y": {"field": "k", "type": "quantitative", "scale": {"domain": [-80, 10], "nice": false, "zero": false}, "axis": {"title": "Amplitude", "values": [-80, -70, -60, -50, -40, -30, -20, -10, 0, 10]}},
    "color": {"datum": "Vₛ₂(OpenLoop)", "scale": {"domain": ["Vₛ₂(OpenLoop)", "Vₛ₂(OpenLoopsim)", "Vₛ₂(ClosedLoop)", "Vₛ₂(ClosedLoopsim)"], "range": ["#000000", "#1e9bf0", "#ff0000", "#77ac30"]}, "legend": {"title": null, "orient": "none", "legendX": 274, "legendY": -20}},
    "strokeDash": {"datum": "Vₛ₂(OpenLoop)", "scale": {"domain": ["Vₛ₂(OpenLoop)", "Vₛ₂(OpenLoopsim)", "Vₛ₂(ClosedLoop)", "Vₛ₂(ClosedLoopsim)"], "range": [[1, 0], [2, 2], [1, 0], [2, 2]]}, "legend": {"title": null, "orient": "none", "legendX": 274, "legendY": -20}}}},
  {"mark": {"type": "line", "clip": true, "strokeWidth": 1.8, "invalid": "filter"}, "encoding": {
    "y": {"field": "u", "type": "quantitative", "axis": {"title": "Amplitude", "values": [-80, -70, -60, -50, -40, -30, -20, -10, 0, 10]}},
    "color": {"datum": "Vₛ₂(OpenLoopsim)"},
    "strokeDash": {"datum": "Vₛ₂(OpenLoopsim)"}}},
  {"mark": {"type": "line", "clip": true, "strokeWidth": 1.8, "invalid": "filter"}, "encoding": {
    "y": {"field": "r", "type": "quantitative", "axis": {"title": "Amplitude", "values": [-80, -70, -60, -50, -40, -30, -20, -10, 0, 10]}},
    "color": {"datum": "Vₛ₂(ClosedLoop)"},
    "strokeDash": {"datum": "Vₛ₂(ClosedLoop)"}}},
  {"mark": {"type": "line", "clip": true, "strokeWidth": 1.8, "invalid": "filter"}, "encoding": {
    "y": {"field": "g", "type": "quantitative", "axis": {"title": "Amplitude", "values": [-80, -70, -60, -50, -40, -30, -20, -10, 0, 10]}},
    "color": {"datum": "Vₛ₂(ClosedLoopsim)"},
    "strokeDash": {"datum": "Vₛ₂(ClosedLoopsim)"}}}
 ]
}
]
}
